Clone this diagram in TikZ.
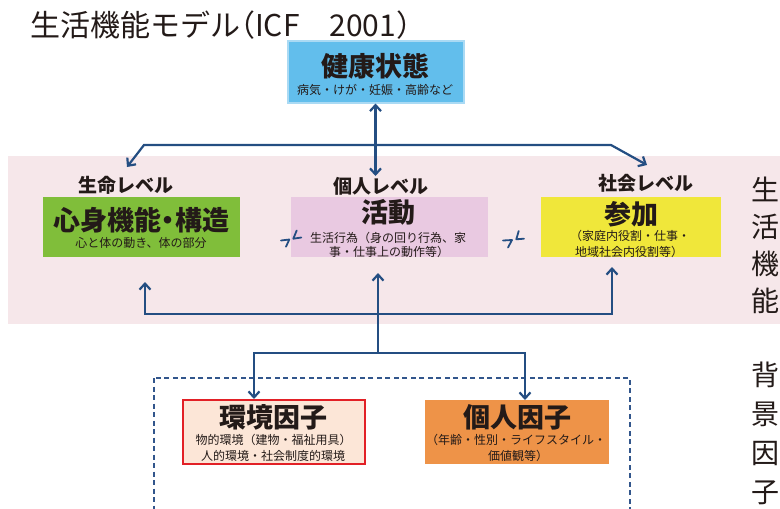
\documentclass[tikz,border=0pt]{standalone}
\usepackage{fontspec}
\setmainfont{Noto Sans CJK JP}
\usetikzlibrary{arrows.meta}
\definecolor{arrowblue}{RGB}{36,78,130}
\definecolor{txt}{RGB}{35,26,24}
\definecolor{healthfill}{RGB}{98,190,236}
\definecolor{healthedge}{RGB}{170,218,244}
\definecolor{bandfill}{RGB}{246,231,234}
\definecolor{greenfill}{RGB}{128,190,58}
\definecolor{actfill}{RGB}{233,201,225}
\definecolor{partfill}{RGB}{240,231,58}
\definecolor{envfill}{RGB}{252,230,215}
\definecolor{envedge}{RGB}{226,32,38}
\definecolor{persfill}{RGB}{238,147,72}
\definecolor{dashblue}{RGB}{50,86,140}
\tikzset{
  box/.style={rectangle, inner sep=0pt, draw=none},
  ttl/.style={inner sep=0pt, text=txt, font=\fontsize{27}{30}\selectfont\bfseries},
  sub/.style={inner sep=0pt, text=txt, font=\fontsize{12}{15}\selectfont},
  lvl/.style={inner sep=0pt, text=txt, font=\fontsize{19}{22}\selectfont\bfseries},
  arr/.style={draw=arrowblue, line width=2.2pt, line join=miter, arrows={-Straight Barb[length=6pt,width=11pt]}},
  arrb/.style={draw=arrowblue, line width=2.2pt, line join=miter, arrows={Straight Barb[length=6pt,width=11pt]-Straight Barb[length=6pt,width=11pt]}},
  imark/.style={draw=arrowblue, line width=1.8pt, line cap=round, line join=round},
  vtext/.style={inner sep=0pt, text=txt, align=center}
}
\begin{document}
\begin{tikzpicture}[x=1pt,y=-1pt]
\useasboundingbox (0,0) rectangle (780,509);
% background band
\fill[bandfill] (8,156) rectangle (790,324);
% dashed frame
\draw[dashblue, line width=1.5pt, dash pattern=on 5pt off 3.5pt] (154,378) rectangle (630,530);

% title
\node[inner sep=0pt, anchor=west, text=txt, font=\fontsize{30}{34}\selectfont\addfontfeature{RawFeature=+halt}] (title) at (30,25) {生活機能モデル（ICF　2001）};

% health box
\node[box, fill=healthfill, draw=healthedge, line width=2pt, minimum width=176pt, minimum height=62pt] (health) at (375.5,71.5) {};
\node[ttl] (healthT) at (375,66) {健康状態};
\node[sub] (healthS) at (375,90) {病気・けが・妊娠・高齢など};

% level labels
\node[lvl] (lv1) at (126,185) {生命レベル};
\node[lvl] (lv2) at (381,186) {個人レベル};
\node[lvl] (lv3) at (646,183) {社会レベル};

% body function box
\node[box, fill=greenfill, minimum width=197pt, minimum height=60pt] (body) at (141.5,227) {};
\node[ttl, font=\fontsize{27}{30}\selectfont\bfseries\addfontfeature{RawFeature=+halt}] (bodyT) at (141.5,220) {心身機能・構造};
\node[sub] (bodyS) at (141,243) {心と体の動き、体の部分};

% activity box
\node[box, fill=actfill, minimum width=197pt, minimum height=60pt] (act) at (389.5,227) {};
\node[ttl] (actT) at (388,212) {活動};
\node[sub] (actS1) at (388,237.5) {生活行為（身の回り行為、家};
\node[sub] (actS2) at (389,252) {事・仕事上の動作等）};

% participation box
\node[box, fill=partfill, minimum width=180pt, minimum height=60pt] (part) at (631,227) {};
\node[ttl] (partT) at (631,214) {参加};
\node[sub] (partS1) at (630,236) {（家庭内役割・仕事・};
\node[sub] (partS2) at (629,252) {地域社会内役割等）};

% environment box
\node[box, fill=envfill, draw=envedge, line width=2pt, minimum width=182pt, minimum height=64pt] (env) at (273.5,431.5) {};
\node[ttl] (envT) at (273.5,417) {環境因子};
\node[sub] (envS1) at (273.5,440) {物的環境（建物・福祉用具）};
\node[sub] (envS2) at (273,456) {人的環境・社会制度的環境};

% personal box
\node[box, fill=persfill, minimum width=184pt, minimum height=64pt] (pers) at (517,432) {};
\node[ttl] (persT) at (517,417) {個人因子};
\node[sub] (persS1) at (516,440) {（年齢・性別・ライフスタイル・};
\node[sub] (persS2) at (518,456) {価値観等）};

% right vertical texts
\node[vtext, font=\fontsize{28}{37}\selectfont] (vt1) at (765,245) {生\\活\\機\\能};
\node[vtext, font=\fontsize{28}{39}\selectfont] (vt2) at (765,433) {背\\景\\因\\子};

% coordinates for connectors
\coordinate (hbot) at (375.5,176);
\coordinate (tL) at (144,145);
\coordinate (tR) at (611,145);
\coordinate (tipL) at (127,167);
\coordinate (tipR) at (647,165);
\coordinate (bL) at (145,282);
\coordinate (bLc) at (145,314);
\coordinate (bRc) at (612,314);
\coordinate (bR) at (612,267);
\coordinate (cBot) at (378,353);
\coordinate (cTop) at (378,273);
\coordinate (lL) at (254,353);
\coordinate (lR) at (525,353);
\coordinate (envTop) at (254,399);
\coordinate (persTop) at (525,400);

% connectors
\draw[arrb] (health.south) -- (hbot);
\draw[arrb] (tipL) -- (tL) -- (tR) -- (tipR);
\draw[arrb] (bL) -- (bLc) -- (bRc) -- (bR);
\draw[arr] (cBot) -- (cTop);
\draw[arrb] (envTop) -- (lL) -- (lR) -- (persTop);

% interaction marks
\draw[imark] (281,240.5) -- (289.3,239.5) -- (286,246.7);
\draw[imark] (296.7,230.5) -- (293.3,238.7) -- (301.3,237.5);
\draw[imark] (503,240.5) -- (512,240) -- (508,247.5);
\draw[imark] (518.7,231) -- (516.3,239.3) -- (524,238.7);
\end{tikzpicture}
\end{document}
